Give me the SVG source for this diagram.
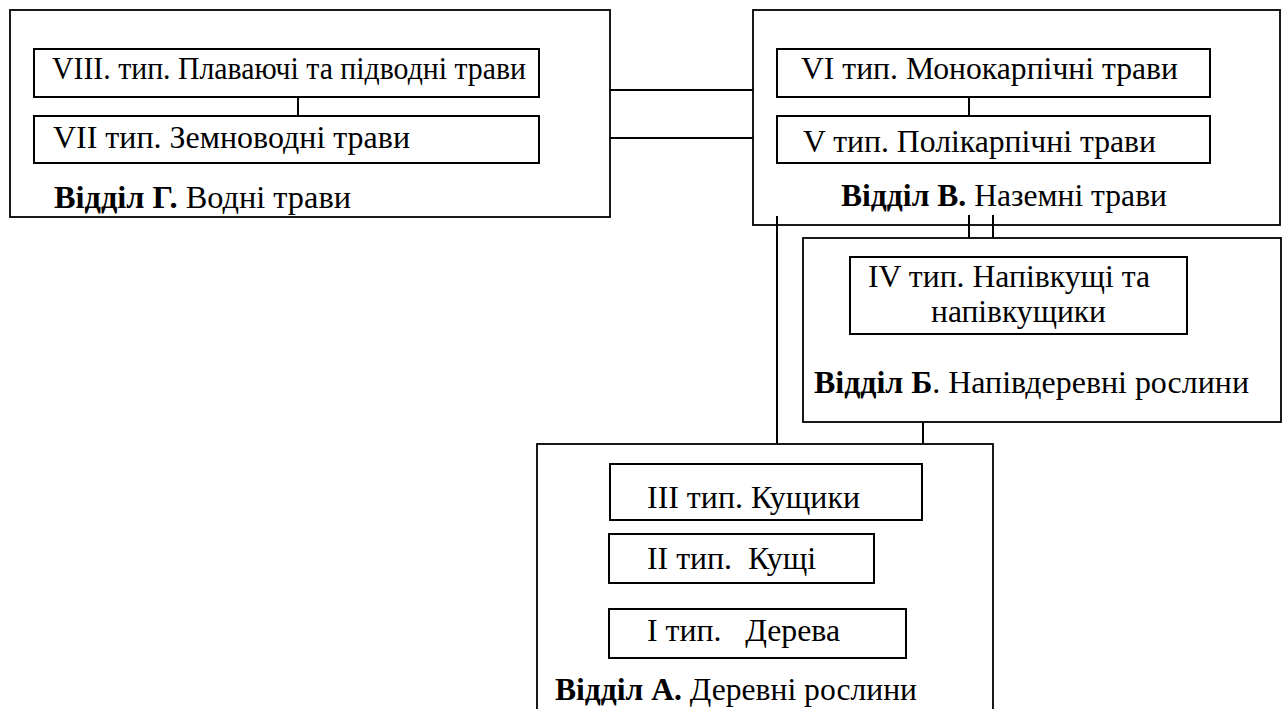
<svg xmlns="http://www.w3.org/2000/svg" width="1282" height="709" viewBox="0 0 1282 709">
<style>
.box{fill:#fff;stroke:#000;stroke-width:1.8}
.in{fill:#fff;stroke:#000;stroke-width:2}
.ln{stroke:#000;stroke-width:2;fill:none}
text{font-family:"Liberation Serif","Times New Roman","DejaVu Serif",serif;font-size:32px;fill:#000}
.b{font-weight:bold}
</style>
<rect width="1282" height="709" fill="#fff"/>
<g id="divG">
<rect class="box" x="10" y="10" width="600" height="207"/>
<text x="54" y="208" textLength="297" lengthAdjust="spacingAndGlyphs"><tspan class="b">Відділ Г.</tspan> Водні трави</text>
</g>
<g id="type8">
<rect class="in" x="34" y="49" width="505" height="48"/>
<text x="52" y="79" textLength="474" lengthAdjust="spacingAndGlyphs">VIII. тип. Плаваючі та підводні трави</text>
</g>
<g id="type7">
<rect class="in" x="34" y="116" width="505" height="47"/>
<text x="53" y="148" textLength="357" lengthAdjust="spacingAndGlyphs">VII тип. Земноводні трави</text>
</g>
<g id="divV">
<rect class="box" x="753" y="10" width="527" height="215"/>
<text x="841" y="206" textLength="326" lengthAdjust="spacingAndGlyphs"><tspan class="b">Відділ В.</tspan> Наземні трави</text>
</g>
<g id="type6">
<rect class="in" x="777" y="49" width="433" height="48"/>
<text x="801" y="79" textLength="377" lengthAdjust="spacingAndGlyphs">VI тип. Монокарпічні трави</text>
</g>
<g id="type5">
<rect class="in" x="777" y="116" width="433" height="47"/>
<text x="803" y="152" textLength="353" lengthAdjust="spacingAndGlyphs">V тип. Полікарпічні трави</text>
</g>
<g id="divB">
<rect class="box" x="803" y="238" width="478" height="184"/>
<text x="814" y="393" textLength="435" lengthAdjust="spacingAndGlyphs"><tspan class="b">Відділ Б</tspan>. Напівдеревні рослини</text>
</g>
<g id="type4">
<rect class="in" x="850" y="257" width="337" height="77"/>
<text x="868" y="287" textLength="282" lengthAdjust="spacingAndGlyphs">IV тип. Напівкущі та</text>
<text x="931" y="322" textLength="175" lengthAdjust="spacingAndGlyphs">напівкущики</text>
</g>
<g id="divA">
<rect class="box" x="537" y="444" width="456" height="280"/>
<text x="555" y="700" textLength="362" lengthAdjust="spacingAndGlyphs"><tspan class="b">Відділ А.</tspan> Деревні рослини</text>
</g>
<g id="type3">
<rect class="in" x="610" y="464" width="312" height="56"/>
<text x="647" y="508" textLength="213" lengthAdjust="spacingAndGlyphs">III тип. Кущики</text>
</g>
<g id="type2">
<rect class="in" x="609" y="534" width="265" height="49"/>
<text x="647" y="569" textLength="169" lengthAdjust="spacingAndGlyphs" xml:space="preserve">II тип.  Кущі</text>
</g>
<g id="type1">
<rect class="in" x="609" y="609" width="297" height="49"/>
<text x="647" y="641" textLength="193" lengthAdjust="spacingAndGlyphs" xml:space="preserve">I тип.   Дерева</text>
</g>
<g id="connectors">
<line class="ln" x1="298" y1="97" x2="298" y2="116"/>
<line class="ln" x1="969" y1="97" x2="969" y2="116"/>
<line class="ln" x1="610" y1="90" x2="753" y2="90"/>
<line class="ln" x1="610" y1="138" x2="753" y2="138"/>
<line class="ln" x1="777" y1="216" x2="777" y2="444"/>
<line class="ln" x1="969" y1="215" x2="969" y2="238"/>
<line class="ln" x1="993" y1="215" x2="993" y2="238"/>
<line class="ln" x1="923" y1="422" x2="923" y2="444"/>
</g>
</svg>
